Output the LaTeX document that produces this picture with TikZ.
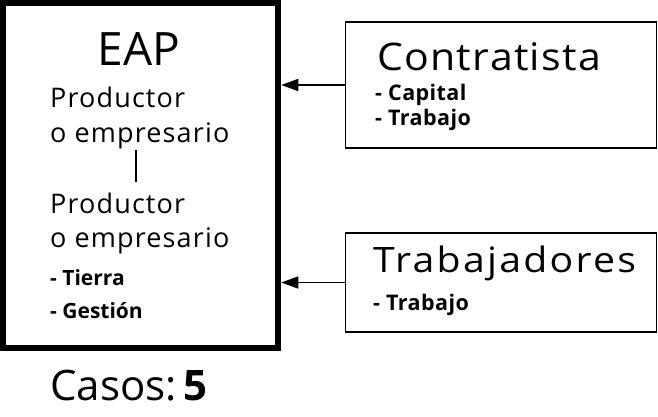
\documentclass[tikz,border=0pt]{standalone}
\usepackage{graphicx}
\usepackage{fontspec}
\setmainfont{Open Sans}
\usetikzlibrary{arrows.meta}

\newcommand{\ancho}[2]{\scalebox{#1}[1]{#2}}

\tikzset{
    lbl/.style={anchor=base west, inner sep=0pt},
    titulo/.style={lbl, font=\fontsize{38}{38}\selectfont\addfontfeatures{LetterSpace=3.2}},
    linea/.style={lbl, font=\fontsize{27}{27}\selectfont\addfontfeatures{LetterSpace=4.2}},
    item/.style={lbl, font=\fontsize{21}{21}\selectfont\bfseries},
    itemd/.style={lbl, font=\fontsize{21.5}{21.5}\selectfont\bfseries\addfontfeatures{LetterSpace=2}},
    caja/.style={draw, line width=1.6pt, inner sep=0pt, minimum width=311pt},
    flecha/.style={line width=1.6pt, -{Triangle[length=17pt,width=12pt]}}
}

\begin{document}
\begin{tikzpicture}[x=1pt,y=-1pt]
            \useasboundingbox (0,0) rectangle (658,416);

            \begin{scope}
                \node[draw, line width=6.5pt, inner sep=0pt, minimum width=275pt, minimum height=345pt] (eap) at (140.5,175.5) {};

                \node[anchor=base, inner sep=0pt, font=\fontsize{46}{46}\selectfont] (eapt) at (139,65) {EAP};
                \node[linea] (prod1) at (50,107) {Productor};
                \node[linea] (emp1) at (50,142) {o empresario};
                \node[linea] (prod2) at (50,213) {Productor};
                \node[linea] (emp2) at (50,247) {o empresario};
                \node[item] (tierra) at (50,285) {- Tierra};
                \node[item] (gestion) at (50,318) {- Gesti\'on};

                \coordinate (b1) at (136,150);
                \coordinate (b2) at (136,182);
                \draw[line width=1.5pt] (b1)--(b2);
            \end{scope}

            \node[lbl, font=\fontsize{42}{42}\selectfont] (casos) at (50,400) {Casos:\,\textbf{5}};

            \begin{scope}
                \node[caja, minimum height=126pt] (contr) at (501,85) {};
                \node[titulo] (contrt) at (377,70) {\ancho{1.08}{Contratista}};
                \node[itemd] (capital) at (375,100) {- Capital};
                \node[itemd] (trab1) at (375,125) {- Trabajo};

                \node[caja, minimum height=99pt] (trab) at (501,282.5) {};
                \node[titulo, font=\fontsize{35}{35}\selectfont\addfontfeatures{LetterSpace=5.8}] (trabt) at (373,272) {\ancho{1.12}{Trabajadores}};
                \node[itemd] (trab2) at (373,310) {- Trabajo};
            \end{scope}

            \foreach \c in {contr,trab}{
                \draw[flecha] (\c.west) -- (eap.east |- \c.west);
            }
        \end{tikzpicture}
\end{document}
